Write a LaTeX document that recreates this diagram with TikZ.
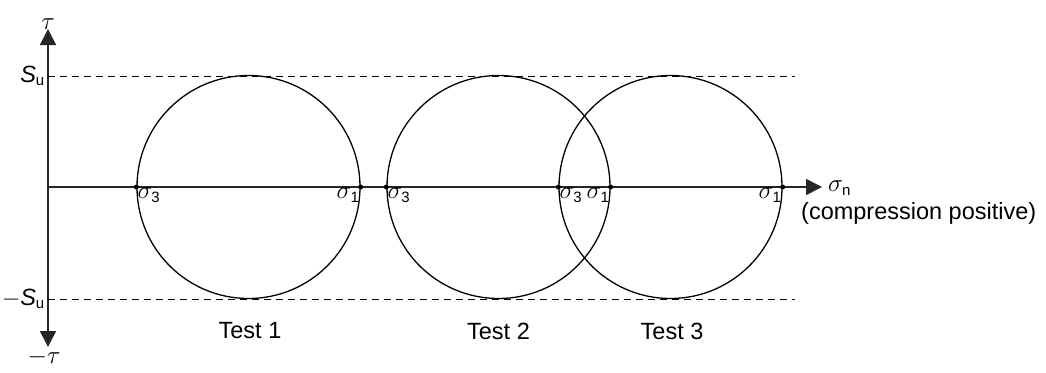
\RequirePackage{fix-cm}
\documentclass[tikz,border=0pt]{standalone}
\usepackage{fontspec}
\setmainfont{Liberation Sans}
\usetikzlibrary{arrows.meta}
\newcommand{\sub}[1]{\mbox{\fontsize{15}{15}\selectfont #1}}
\begin{document}
\begin{tikzpicture}[x=1pt,y=-1pt,
  txt/.style={font=\fontsize{23.5}{28}\selectfont, inner sep=1pt},
  sig/.style={font=\fontsize{25}{30}\selectfont, inner sep=1pt},
  axisline/.style={line width=1.6pt, draw=black!85},
  tip/.style={-{Triangle[length=16pt,width=16pt]}},
  dashline/.style={line width=1pt, dash pattern=on 7pt off 5pt},
  mohr/.style={circle, draw, line width=1.3pt, minimum size=223pt, inner sep=0pt},
  dot/.style={circle, fill, inner sep=0pt, minimum size=5pt}]
\useasboundingbox (0,0) rectangle (1046,372);
% axes
\coordinate (O) at (48,187);
\coordinate (T) at (48,29);
\coordinate (B) at (48,347);
\coordinate (E) at (822,187);
\draw[axisline, tip] (O) -- (T);
\draw[axisline, tip] (O) -- (B);
\draw[axisline, tip] (O) -- (E);
% dashed limits
\coordinate (su1) at (48,76);
\coordinate (su2) at (795,76);
\coordinate (sl1) at (48,299);
\coordinate (sl2) at (795,299);
\draw[dashline] (su1) -- (su2);
\draw[dashline] (sl1) -- (sl2);
% circles
\node[mohr] (c1) at (248.5,187) {};
\node[mohr] (c2) at (498.5,187) {};
\node[mohr] (c3) at (670.5,187) {};
\foreach \c in {c1,c2,c3}{
  \node[dot] (\c w) at (\c.west) {};
  \node[dot] (\c e) at (\c.east) {};
}
\foreach \c in {c1,c2,c3}{
  \node[sig, anchor=north west, inner sep=1pt] at (\c w.center) {$\sigma_{\sub{3}}$};
  \node[sig, anchor=north east, inner sep=1pt] at (\c e.center) {$\sigma_{\sub{1}}$};
}
% axis labels
\node[sig, anchor=south] (tau) at ([yshift=-2pt]T) {$\tau$};
\node[sig, anchor=north] (mtau) at ([xshift=-4pt,yshift=-1pt]B) {$-\tau$};
\node[txt, anchor=east] (su) at ([xshift=-2pt]su1) {$\mathit{S}_{\sub{u}}$};
\node[txt, anchor=east] (msu) at ([xshift=-2pt]sl1) {$-\mathit{S}_{\sub{u}}$};
\node[sig, anchor=west] (sn) at ([xshift=5pt,yshift=-1pt]E) {$\sigma_{\sub{n}}$};
\node[txt, anchor=west] (cp) at (800,213) {(compression positive)};
% test labels
\node[txt] (t1) at (250,331) {Test 1};
\node[txt] (t2) at (498.5,331) {Test 2};
\node[txt] (t3) at (672,331) {Test 3};
\end{tikzpicture}
\end{document}
